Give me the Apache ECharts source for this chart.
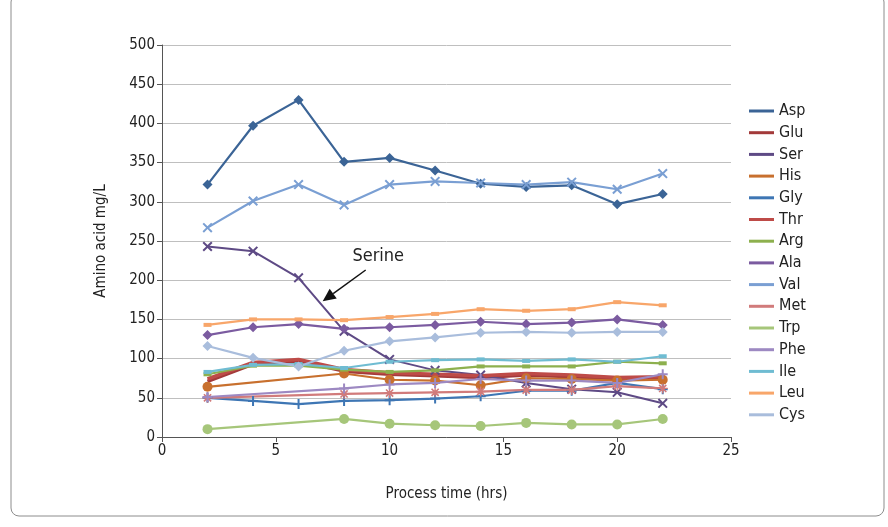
<!DOCTYPE html>
<html><head><meta charset="utf-8">
<script src="https://cdn.jsdelivr.net/npm/echarts@6/dist/echarts.min.js"></script>
<style>html,body{margin:0;padding:0;background:#fff}#c{width:888px;height:527px}</style>
</head><body><div id="c"></div>
<script>
const xFull = [2,4,6,8,10,12,14,16,18,20,22];
const xPart = [2,8,10,12,14,16,18,20,22];
const seriesNames = ['Asp','Glu','Ser','His','Gly','Thr','Arg','Ala','Val','Met','Trp','Phe','Ile','Leu','Cys'];
const Asp = [322,397,430,351,356,340,323,319,321,297,310];
const Glu = [71,93,97,84,80,78,76,79,77,74,75];
const Ser = [243,237,203,135,99,85,79,69,61,57,43];
const His = [64,81,73,72,66,75,74,72,73];
const Gly = [50,46,42,46,47,49,52,59,59,69,61];
const Thr = [74,95,99,86,82,80,78,81,79,76,77];
const Arg = [80,91,91,86,83,85,90,90,90,96,94];
const Ala = [130,140,144,138,140,143,147,144,146,150,143];
const Val = [267,301,322,296,322,326,324,322,325,316,336];
const Met = [50,55,56,57,58,60,60,65,62];
const Trp = [10,23,17,15,14,18,16,16,23];
const Phe = [51,62,67,69,74,72,72,69,80];
const Ile = [83,92,93,88,96,98,99,97,99,96,103];
const Leu = [143,150,150,149,153,157,163,161,163,172,168];
const Cys = [116,101,90,110,122,127,133,134,133,134,134];
const yTicks = [0,50,100,150,200,250,300,350,400,450,500];
const xTicks = [0,5,10,15,20,25];

const FONT = '"DejaVu Sans Condensed","Roboto",sans-serif';
const X = 'path://M0,1.4L1.4,0L5,3.6L8.6,0L10,1.4L6.4,5L10,8.6L8.6,10L5,6.4L1.4,10L0,8.6L3.6,5Z';
const PLUS = 'path://M4,0H6V4H10V6H6V10H4V6H0V4H4Z';
const STAR = 'path://M0,1.4L1.4,0L5,3.6L8.6,0L10,1.4L6.4,5L10,8.6L8.6,10L5,6.4L1.4,10L0,8.6L3.6,5Z M4.2,-1H5.8V4.2H11V5.8H5.8V11H4.2V5.8H-1V4.2H4.2Z';

const defs = {
  Asp:{x:xFull,y:Asp,c:'#3B6496',s:'diamond',w:2.2},
  Glu:{x:xFull,y:Glu,c:'#A33A3A',s:'none',w:3.5},
  Ser:{x:xFull,y:Ser,c:'#5E4A85',s:X,w:2},
  His:{x:xPart,y:His,c:'#C8702E',s:'circle',w:2.2,ss:10},
  Gly:{x:xFull,y:Gly,c:'#3E76B4',s:PLUS,w:2.2},
  Thr:{x:xFull,y:Thr,c:'#BE4B48',s:'none',w:3.5},
  Arg:{x:xFull,y:Arg,c:'#8DB04E',s:'rect',w:2.2,ss:[8,4]},
  Ala:{x:xFull,y:Ala,c:'#7B5BA0',s:'diamond',w:2.2},
  Val:{x:xFull,y:Val,c:'#7A9FD3',s:X,w:2.2},
  Met:{x:xPart,y:Met,c:'#D17B7B',s:STAR,w:2.2},
  Trp:{x:xPart,y:Trp,c:'#A6C67A',s:'circle',w:2.2,ss:10},
  Phe:{x:xPart,y:Phe,c:'#9D89C2',s:PLUS,w:2.2},
  Ile:{x:xFull,y:Ile,c:'#6FBCD2',s:'rect',w:2.2,ss:[8,4]},
  Leu:{x:xFull,y:Leu,c:'#F8A66A',s:'rect',w:2.2,ss:[8,4]},
  Cys:{x:xFull,y:Cys,c:'#A9BDDC',s:'diamond',w:2.2}
};

const series = seriesNames.map(n => {
  const d = defs[n];
  return {
    name:n, type:'line',
    data: d.x.map((xv,i)=>[xv,d.y[i]]),
    symbol: d.s, symbolSize: d.ss || 10, showSymbol: d.s !== 'none',
    lineStyle:{color:d.c,width:d.w}, itemStyle:{color:d.c},
    emphasis:{disabled:true}, animation:false
  };
});

const chart = echarts.init(document.getElementById('c'), null, {renderer:'canvas'});
chart.setOption({
  animation:false,
  color: seriesNames.map(n=>defs[n].c),
  grid:{left:162,right:157,top:45,bottom:90},
  xAxis:{type:'value',min:0,max:25,interval:5,
    name:'Process time (hrs)',nameLocation:'middle',nameGap:50,
    nameTextStyle:{fontFamily:FONT,fontSize:15,color:'#222'},
    axisLine:{lineStyle:{color:'#555',width:1}},
    axisTick:{show:true,length:5,lineStyle:{color:'#555'}},
    axisLabel:{fontFamily:FONT,fontSize:15,color:'#222',margin:7},
    splitLine:{show:false}},
  yAxis:{type:'value',min:0,max:500,interval:50,
    name:'Amino acid mg/L',nameLocation:'middle',nameGap:53,
    nameTextStyle:{fontFamily:FONT,fontSize:15,color:'#222'},
    axisLine:{show:true,lineStyle:{color:'#555',width:1}},
    axisTick:{show:true,length:5,lineStyle:{color:'#555'}},
    axisLabel:{fontFamily:FONT,fontSize:15,color:'#222',margin:7},
    splitLine:{show:true,lineStyle:{color:'#BFBFBF',width:1}}},
  legend:{orient:'vertical',left:749,top:103,padding:0,itemWidth:25,itemHeight:3,itemGap:5.7,
    icon:'rect',
    textStyle:{fontFamily:FONT,fontSize:16,color:'#222',lineHeight:16},
    data:seriesNames},
  series: series
});

const tip = chart.convertToPixel({gridIndex:0},[7.06,173]);
const start = chart.convertToPixel({gridIndex:0},[8.95,213]);
const lbl = chart.convertToPixel({gridIndex:0},[9.5,231]);
const ang = Math.atan2(tip[1]-start[1], tip[0]-start[0]);
const L = 13, W = 6;
const bx = tip[0]-L*Math.cos(ang), by = tip[1]-L*Math.sin(ang);
const px = -Math.sin(ang)*W, py = Math.cos(ang)*W;
chart.setOption({
  graphic:[
    {type:'rect',shape:{x:11,y:-6,width:873,height:522,r:8},style:{fill:null,stroke:'#8c8c8c',lineWidth:1},z:-1,silent:true},
    {type:'line',shape:{x1:start[0],y1:start[1],x2:bx,y2:by},style:{stroke:'#111',lineWidth:1.5},z:100},
    {type:'polygon',shape:{points:[[tip[0],tip[1]],[bx+px,by+py],[bx-px,by-py]]},style:{fill:'#111'},z:100},
    {type:'text',x:lbl[0],y:lbl[1],style:{text:'Serine',fontFamily:FONT,fontSize:18,fill:'#222',align:'center',verticalAlign:'middle'},z:100}
  ]
});
</script></body></html>
